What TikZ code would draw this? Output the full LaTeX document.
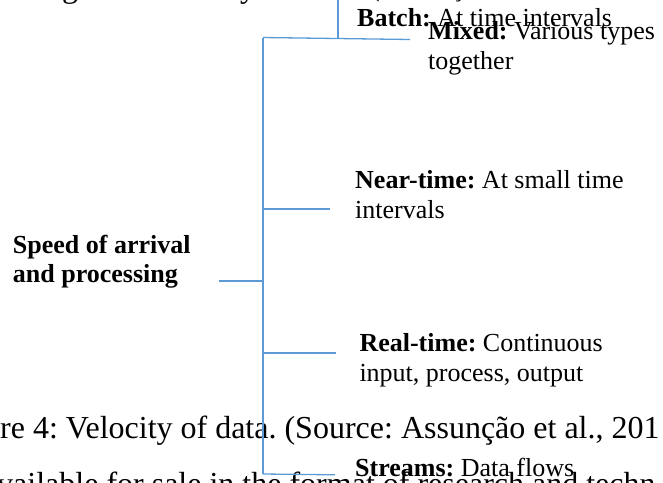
\documentclass[tikz,border=0pt]{standalone}
\usepackage{fontspec}
\setmainfont{Liberation Serif}
\usepackage{xcolor}
\usepackage{tikz}
\usetikzlibrary{positioning}

\definecolor{branchblue}{RGB}{91,155,213}
\newcommand{\leaffont}{\fontsize{26}{30}\selectfont}
\newcommand{\pagefont}{\fontsize{32}{37}\selectfont}
\frenchspacing

\begin{document}
\begin{tikzpicture}[x=1pt,y=-1pt,
  branch/.style={draw=branchblue, line width=1.3pt},
  leaf/.style={anchor=base west, inner sep=0pt, align=left, font=\leaffont},
  pagetext/.style={anchor=base west, inner sep=0pt, font=\pagefont}]
  \path[use as bounding box, clip] (0,0) rectangle (663,482);
  % Page text around the chart (base = last line)
  \node[pagetext] (frag-g) at (62,-3) {g};
  \node[pagetext] (frag-y) at (240,-3) {y};
  \node[leaf] (frag-par) at (371,-3.3) {(};
  \node[leaf] (frag-ced) at (452,-3.3) {ç};
  \node[pagetext] (caption) at (0,438) {re 4: Velocity of data. (Source: Assunção et al., 201};
  \node[pagetext] (nextline) at (-3,494) {vailable for sale in the format of research and techn};
  % Labels
  \node[leaf] (batch) at (357,26.7) {\textbf{Batch:} At time intervals};
  \node[leaf] (mixed) at (428,69.3) {\textbf{Mixed:} Various types\\together};
  \node[leaf] (neartime) at (355,218) {\textbf{Near-time:} At small time\\intervals};
  \node[leaf, font=\fontsize{26}{29}\selectfont\bfseries] (speed) at (12.7,282.7) {Speed of arrival\\and processing};
  \node[leaf] (realtime) at (359.3,381.7) {\textbf{Real-time:} Continuous\\input, process, output};
  \node[leaf] (streams) at (355,476) {\textbf{Streams:} Data flows};
  % Junctions
  \coordinate (top-left) at (263,37.5);
  \coordinate (top-right) at (410,39.5);
  \coordinate (top-up) at (338,0);
  \coordinate (top-mid) at (338,37.9);
  \coordinate (bus-near) at (263,209);
  \coordinate (end-near) at (330,209);
  \coordinate (bus-speed) at (263,281);
  \coordinate (end-speed) at (219,281);
  \coordinate (bus-real) at (263,353);
  \coordinate (end-real) at (336,353);
  \coordinate (bus-bottom) at (263,474);
  \coordinate (end-streams) at (335,474.8);
  % Branches
  \draw[branch] (top-left) -- (top-right);
  \draw[branch] (top-up) -- (top-mid);
  \draw[branch] (top-left) -- (bus-bottom);
  \draw[branch] (bus-near) -- (end-near);
  \draw[branch] (end-speed) -- (bus-speed);
  \draw[branch] (bus-real) -- (end-real);
  \draw[branch] (bus-bottom) -- (end-streams);
\end{tikzpicture}
\end{document}
